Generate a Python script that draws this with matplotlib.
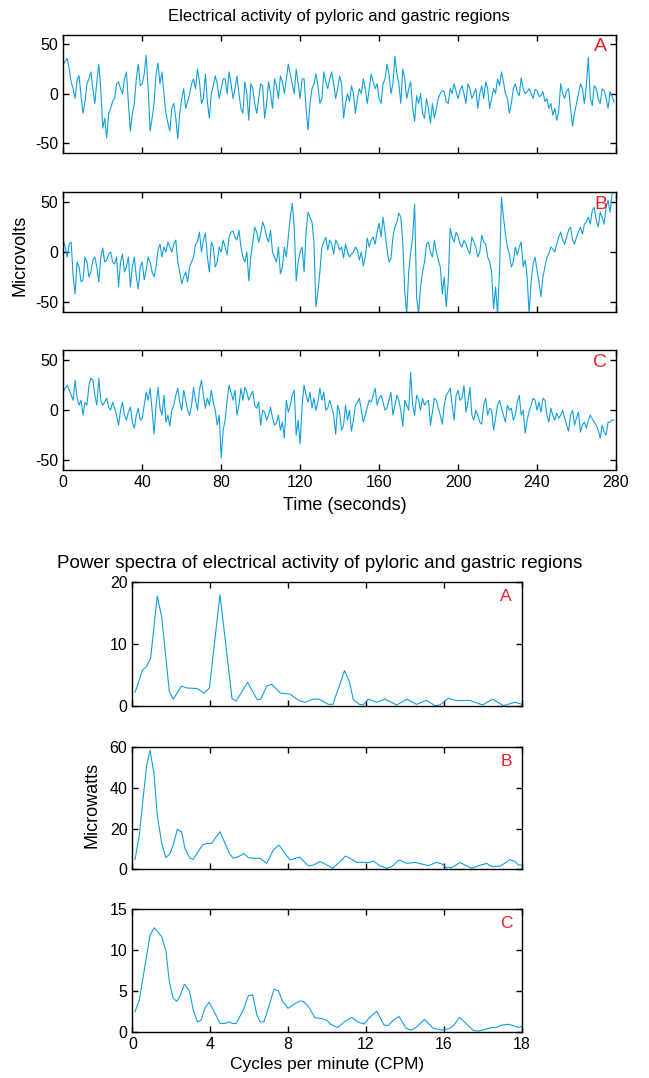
import numpy as np
import matplotlib
matplotlib.use('Agg')
import matplotlib.pyplot as plt

plt.rcParams['font.family'] = ['Liberation Sans', 'DejaVu Sans']
plt.rcParams['axes.unicode_minus'] = False

time_s = np.arange(0, 280)

a_even = [30, 36, 12, -5, 18, -20, 10, 22, -10, 30, -35, -45, -15, -5, 12, 0, 22, -38, -10, 30,
          10, 39, -38, -10, 31, 22, -20, -38, -10, -46, -5, -15, 0, 15, 25, -10, 20, -25, 8, 10,
          5, 15, 22, -5, 18, -15, 12, -27, 5, -20, 10, -25, 12, -15, 8, 18, 0, 30, 10, 25,
          -5, 15, -37, 5, 20, -10, 22, 5, 22, -5, 18,
          -25, 0, 8, -20, 5, 15, -10, 20, 5, -5, 10, 30, 0, 38, 10, 25, -5, 12, -28, -10,
          -20, -5, -30, -25, -5, 3, -8, 5, 10, -5, 8, -10, 5, 0, -15, 8, 12, -15, 5, 15,
          22, 0, -20, 5, 2, 16, 0, 5, -5, 3, -2, -8, -15, -22, -27, 10, -5, 5, -33, -10,
          10, -10, 37, -12, 5, -10, 3, -15, -3]
a_odd = [33, 25, 5, 14, -2, -8, 15, 5, 12, 5, -25, -20, -8, 10, 5, 15, -10, -20, 15, 8,
         20, 5, -25, 20, 10, 0, -30, -15, -25, -20, 5, -8, 10, 5, 12, -5, -8, 0, 18, -5,
         15, 0, 10, 5, 0, -20, 0, 10, -10, -5, 8, -10, 0, 15, -5, 12, 15, 20, 0, 10,
         15, -15, -10, 10, 8, -5, 12, 15, 10, 5,
         10, -10, -8, 0, -5, 0, 5, 5, 12, 10, -10, 15, 20, 10, 20, -10, 15, 5, -15, -2,
         0, -25, -15, -10, -15, 0, 2, -10, 0, 2, 3, 0, 10, -5, 5, 0, -5, 5, -5, 0,
         8, 12, -5, -10, 10, -2, 5, 2, 0, 4, -3, 2, -5, -10, -15, -18, 0, 3, -15, -20,
         0, 5, 8, -5, 8, -5, 5, -5, 2, -8]

b_even = [12, -5, 10, -42, -15, -28, -10, -20, -5, -30, 4, -8, 0, -12, -35, -2, -15, -35, -5, -37,
          -10, -18, -10, -25, 2, -5, 0, 5, 8, -10, -32, -20, -15, -5, 10, 0, 19, -20, 5, -10,
          0, 5, 15, 21, 12, 5, -10, -29, 10, 20, 18, 25, 10, 0, -10, -22, 5, 15, 49, -29,
          0, -20, 40, 30, -55, -20, 10, 2, 8, 12, 2,
          -6, 0, -2, 5, -8, -14, 14, 12, 8, 29, 35, 3, -7, 25, 39, 10, -62, 0, 48, -62,
          -20, 8, 0, 12, -8, -42, -55, 24, 10, 16, 5, 8, -2, 10, -5, 17, 8, -10, -57, -62,
          55, 18, -2, -10, -3, 10, -8, -62, -12, -18, -45, -15, -2, 3, 8, 20, 8, 22, 12, 15,
          25, 28, 35, 42, 32, 40, 28, 52, 58]
b_odd = [5, 8, -25, -10, -30, -5, -25, -8, -15, -5, -10, -2, -10, -5, -10, -20, -5, -15, -25, -15,
         -28, -5, -20, -15, 8, 5, 10, 0, 12, -20, -25, -30, -10, 8, 20, 12, -5, 10, -15, 5,
         12, -3, 20, 15, 22, -5, 0, -5, 25, 10, 30, 15, 22, -5, 5, -15, -5, 35, 25, -10,
         5, 20, 35, 10, -40, 5, 15, 12, -2, 8,
         5, 8, -5, 0, 2, 0, -5, 5, 15, 20, 15, 20, -10, 15, 30, 35, -40, -20, 15, -45,
         -35, -10, 10, -5, 0, -15, -25, -30, 15, 20, 8, 12, 2, 15, 5, 0, 10, -5, -20, -35,
         -20, 35, 5, -15, 5, 5, -15, -25, -30, -5, -30, -25, -5, 5, 0, 15, 12, 15, 25, 8,
         20, 18, 30, 28, 45, 25, 35, 45, 40, 60]

c_even = [18, 25, 15, 30, 5, -5, 5, 32, 15, 32, 5, 12, 0, 2, -15, 8, -10, 3, -18, 2,
          -8, 18, 22, -24, 23, -5, -12, -16, 5, 22, 0, 10, -5, 23, 0, 30, 2, 5, 8, -15,
          -48, -10, 25, 10, -5, 22, 23, 10, 19, 2, -15, -2, -5, -8, -13, -20, -28, -2, 15, -25,
          -34, 25, 8, 2, 0, 22, 18, 2, 3, -24, -2,
          -15, -10, -21, 5, 12, -12, 3, 8, 22, 12, 8, 2, 18, 5, 10, -16, 5, 38, -5, 10,
          12, 8, -15, 12, 2, -14, 15, 22, -10, 20, 12, -2, 23, -10, -5, -14, 12, 2, -20, 5,
          2, -12, 0, -10, 8, -5, -23, -1, 12, 0, -2, 10, -12, -5, -3, -5, -8, -21, 0, -8,
          -22, -12, -10, -9, -15, -28, -22, -12, -10]
c_odd = [22, 20, 10, 12, 10, 8, 25, 30, 5, 10, 8, 3, 8, -5, 0, -5, -2, -12, -5, -10,
         5, 10, 0, 5, 2, 15, -5, 0, 15, 8, 20, 0, 5, 10, 20, 15, 12, 20, 0, -5,
         -20, 10, 18, 20, 5, 10, 18, 15, 5, 8, 0, -10, 3, -15, -5, -12, 10, 5, 20, -10,
         5, 15, 18, 12, 8, 10, 0, 10, -5, 5,
         -20, 5, 0, -10, 8, 0, -5, 10, 15, 5, 15, 0, 10, -5, 15, 0, 10, 0, 5, 15,
         0, 5, 10, -2, 10, -5, 5, 18, 5, 15, 10, 25, 8, -5, 0, -12, 5, -5, 0, -8,
         10, -5, 5, 2, -5, 15, 0, -10, 5, 10, 8, 12, -5, 2, -10, -8, 0, -15, -5, -15,
         -2, -15, -18, -5, -12, -20, -15, -25, -12, -10]

# power spectra (x in axis units, last tick is labelled 18)
freq_a = [0.14, 0.53, 0.74, 0.94, 1.28, 1.51, 1.9, 2.1, 2.53, 2.8, 3.34, 3.68, 3.96, 4.5, 4.71,
          5.12, 5.33, 5.92, 6.42, 6.6, 6.9, 7.16, 7.59, 8.1, 8.6, 8.87, 9.3, 9.6, 10.07, 10.3,
          10.9, 11.15, 11.35, 11.66, 11.87, 12.12, 12.55, 12.98, 13.58, 14.1, 14.6, 15.1, 15.55,
          15.8, 16.23, 16.66, 17.35, 17.5, 18.0, 18.5, 19.06, 19.66, 20.0]
power_a = [2.2, 5.8, 6.4, 7.7, 17.7, 14.3, 2.3, 1.1, 3.2, 2.9, 2.8, 2.05, 2.9, 17.9, 12.3,
           1.2, 0.8, 3.8, 1.0, 1.1, 3.2, 3.5, 2.1, 1.9, 0.8, 0.6, 1.1, 1.1, 0.27, 0.27,
           5.7, 3.9, 1.0, 0.27, 0.2, 1.1, 0.6, 1.1, 0.16, 1.1, 0.27, 0.9, 0.05,
           0.16, 1.24, 0.86, 0.9, 0.7, 0.16, 1.1, 0.05, 0.6, 0.27]

freq_b = [0.14, 0.36, 0.57, 0.74, 0.91, 1.11, 1.28, 1.51, 1.73, 1.94, 2.1, 2.31, 2.53, 2.7, 2.96,
          3.13, 3.6, 3.78, 4.08, 4.25, 4.5, 4.71, 4.98, 5.19, 5.45, 5.74, 5.96, 6.22, 6.56, 6.9,
          7.24, 7.53, 7.84, 8.1, 8.6, 9.04, 9.3, 9.64, 9.9, 10.3, 10.96, 11.18, 11.52, 12.2,
          12.37, 12.7, 13.07, 13.32, 13.7, 14.1, 14.52, 15.2, 15.63, 15.9, 16.15, 16.4, 16.83,
          17.43, 17.78, 18.2, 18.46, 18.9, 19.4, 19.66, 19.83, 20.05]
power_b = [4.9, 16.8, 36.4, 51, 58.4, 47, 26.6, 12.7, 5.7, 7.8, 11.9, 19.6, 18.4, 10.3, 5.4,
           4.9, 11.9, 12.6, 12.7, 15.2, 18.4, 13.9, 7.8, 5.4, 6.2, 7.8, 5.7, 5.4, 5.4, 2.9,
           9.5, 11.9, 7.8, 4.6, 6.0, 1.6, 2.1, 3.8, 2.6, 0.5, 6.5, 5.4, 3.4, 3.4,
           4.1, 1.8, 0.5, 1.3, 4.6, 2.9, 3.4, 1.8, 3.4, 2.6, 0.8, 0.8, 3.3,
           0.5, 1.8, 2.9, 1.3, 1.6, 4.7, 3.8, 2.1, 2.1]

freq_c = [0.14, 0.36, 0.57, 0.91, 1.13, 1.51, 1.73, 1.9, 2.1, 2.28, 2.48, 2.67, 2.93, 3.13, 3.34,
          3.53, 3.73, 3.94, 4.16, 4.5, 4.76, 4.97, 5.14, 5.33, 5.7, 5.96, 6.18, 6.39, 6.56, 6.76,
          7.04, 7.28, 7.5, 7.72, 8.0, 8.27, 8.6, 8.78, 9.04, 9.38, 9.73, 9.98, 10.19, 10.53,
          10.87, 11.27, 11.61, 11.9, 12.17, 12.55, 12.93, 13.15, 13.4, 13.7, 14.06, 14.35, 14.6,
          15.0, 15.46, 15.9, 16.23, 16.5, 16.8, 17.14, 17.5, 17.77, 18.2, 18.46, 18.7, 18.97,
          19.3, 19.57, 19.83, 20.05]
power_c = [2.45, 3.9, 6.9, 11.8, 12.7, 11.6, 9.8, 6.1, 4.1, 3.7, 4.5, 5.8, 5.0, 2.65, 1.2,
           1.4, 2.9, 3.6, 2.65, 1.0, 1.0, 1.2, 1.0, 1.0, 2.65, 4.4, 4.5, 2.1, 1.2, 1.2,
           3.3, 5.2, 5.0, 3.7, 2.85, 3.3, 3.75, 3.7, 3.1, 1.7, 1.6, 1.4, 0.9, 0.5,
           1.15, 1.75, 1.15, 0.95, 1.7, 2.5, 0.8, 0.75, 1.4, 1.85, 0.4, 0.2, 0.57,
           1.5, 0.4, 0.2, 0.33, 0.73, 1.75, 1.0, 0.16, 0.08, 0.33, 0.5, 0.53, 0.8,
           0.9, 0.73, 0.5, 0.7]

spec_xticks = [0, 4, 8, 12, 16, 20]
spec_xlabels = ['0', '4', '8', '12', '16', '18']

line_col = '#12a0dc'
red = '#e8232b'


def merge(even, odd):
    # put the even-second and odd-second readings back in time order
    out = np.empty(len(even) + len(odd))
    out[0::2] = even
    out[1::2] = odd
    return out


def style(ax):
    ax.tick_params(direction='in', top=True, right=True, length=4, width=1, labelsize=11.5)
    for s in ax.spines.values():
        s.set_linewidth(1.0)


fig = plt.figure(figsize=(6.49, 10.78), dpi=100)

# top three time traces
top_boxes = [[0.0975, 0.8584, 0.8516, 0.1095],
             [0.0975, 0.7108, 0.8516, 0.1108],
             [0.0975, 0.5640, 0.8516, 0.1110]]
traces = [merge(a_even, a_odd), merge(b_even, b_odd), merge(c_even, c_odd)]
letters = ['A', 'B', 'C']

for i in range(3):
    ax = fig.add_axes(top_boxes[i])
    ax.plot(time_s, traces[i], color=line_col, lw=0.8)
    ax.set_xlim(0, 280)
    ax.set_ylim(-60, 60)
    ax.set_yticks([-50, 0, 50])
    ax.set_xticks(range(0, 281, 40))
    style(ax)
    if i < 2:
        ax.set_xticklabels([])
    ax.text(0.972, 0.9, letters[i], transform=ax.transAxes, color=red,
            fontsize=14, ha='center', va='center')

# bottom three spectra
spec_boxes = [[0.2039, 0.3451, 0.6000, 0.1153],
              [0.2039, 0.1936, 0.6000, 0.1135],
              [0.2039, 0.0430, 0.6000, 0.1138]]
spec_x = [freq_a, freq_b, freq_c]
spec_y = [power_a, power_b, power_c]
spec_ylim = [20, 60, 15]
spec_yticks = [[0, 10, 20], [0, 20, 40, 60], [0, 5, 10, 15]]

for i in range(3):
    ax = fig.add_axes(spec_boxes[i])
    ax.plot(spec_x[i], spec_y[i], color=line_col, lw=0.8)
    ax.set_xlim(0, 20)
    ax.set_ylim(0, spec_ylim[i])
    ax.set_yticks(spec_yticks[i])
    ax.set_xticks(spec_xticks)
    style(ax)
    if i < 2:
        ax.set_xticklabels([])
    else:
        ax.set_xticklabels(spec_xlabels)
    ax.text(0.96, 0.88, letters[i], transform=ax.transAxes, color=red,
            fontsize=12.5, ha='center', va='center')

# titles and axis labels
fig.text(0.5225, 1 - 16 / 1078, 'Electrical activity of pyloric and gastric regions',
         ha='center', va='center', fontsize=12)
fig.text(0.031, 1 - 255 / 1078, 'Microvolts', rotation=90, ha='center', va='center', fontsize=13)
fig.text(0.531, 1 - 505 / 1078, 'Time (seconds)', ha='center', va='center', fontsize=13)
fig.text(0.493, 1 - 563 / 1078,
         'Power spectra of electrical activity of pyloric and gastric regions',
         ha='center', va='center', fontsize=13.5)
fig.text(0.142, 1 - 805 / 1078, 'Microwatts', rotation=90, ha='center', va='center', fontsize=13)
fig.text(0.504, 1 - 1065 / 1078, 'Cycles per minute (CPM)', ha='center', va='center', fontsize=12.5)

fig.savefig('out.png', dpi=100)
